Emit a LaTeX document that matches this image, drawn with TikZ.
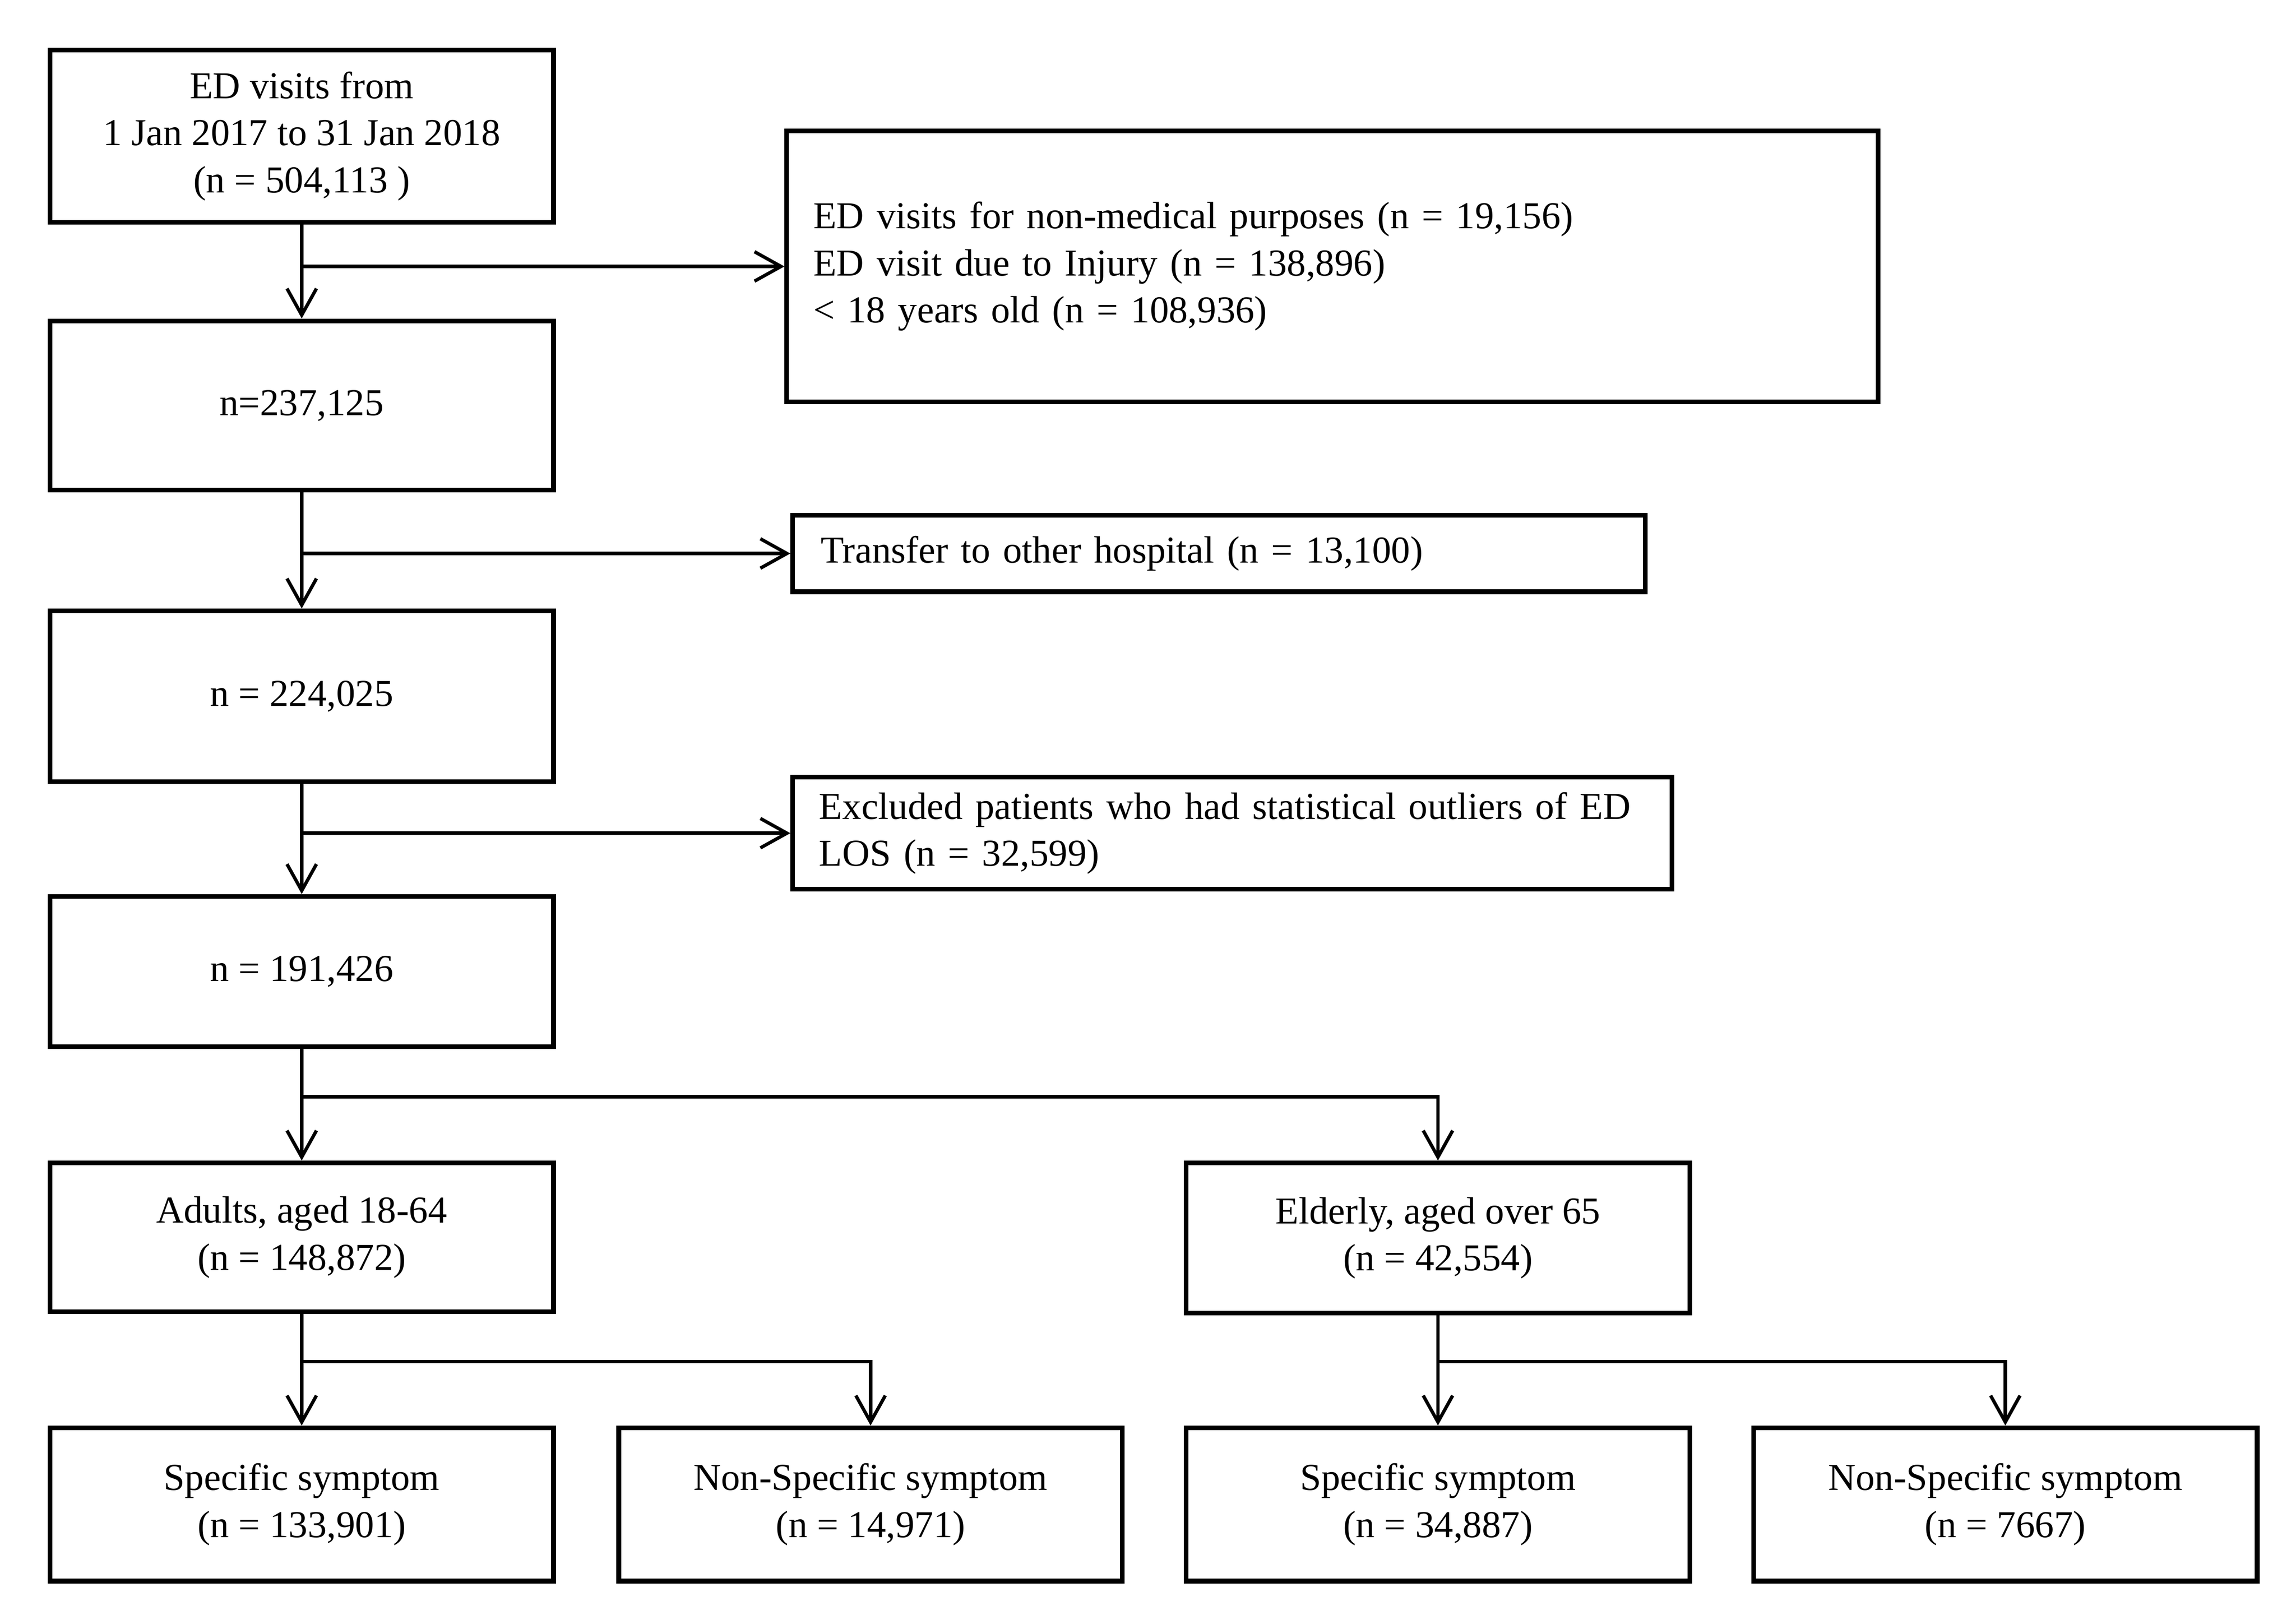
\documentclass[tikz,border=0pt]{standalone}
\usepackage{fontspec}
\setmainfont{Liberation Serif}
\usetikzlibrary{arrows.meta}

\begin{document}
\begin{tikzpicture}[x = 0.01cm, y = -0.01cm,
		font = \fontsize{7.35}{9.1}\selectfont,
		box/.style = {draw, line width = 0.9pt, align = center, inner sep = 0pt, minimum width = 3.42cm},
		excl/.style = {draw, line width = 0.9pt, align = left, anchor = west, inner xsep = 0.18cm, inner ysep = 0pt},
		flow/.style = {line width = 0.65pt, -{Straight Barb[length = 1.8mm, width = 2mm]}}]
		\useasboundingbox (0, 0) rectangle (1560, 1103);
		% main column
		\node[box, minimum height = 1.17cm] (start) at (205, 92.5) {ED visits from\\1 Jan 2017 to 31 Jan 2018\\(n = 504,113 )};
		\node[box, minimum height = 1.15cm] (n1) at (205, 275.5) {n=237,125};
		\node[box, minimum height = 1.16cm] (n2) at (205, 473) {n = 224,025};
		\node[box, minimum height = 1.02cm] (n3) at (205, 660) {n = 191,426};
		% exclusions
		\node[excl, minimum width = 7.41cm, minimum height = 1.84cm, text width = 7.05cm] (ex1) at (533, 181)
			{ED visits for non-medical purposes (n = 19,156)\\ED visit due to Injury (n = 138,896)\\< 18 years old (n = 108,936)};
		\node[excl, minimum width = 5.79cm, minimum height = 0.52cm, text width = 5.41cm] (ex2) at (537, 376)
			{Transfer to other hospital (n = 13,100)};
		\node[excl, minimum width = 5.97cm, minimum height = 0.76cm, text width = 5.61cm] (ex3) at (537, 566)
			{Excluded patients who had statistical outliers of ED\\LOS (n = 32,599)};
		% age groups
		\node[box, minimum height = 1.01cm] (adult) at (205, 840.5) {Adults, aged 18-64\\(n = 148,872)};
		\node[box, minimum height = 1.02cm] (elder) at (977, 841) {Elderly, aged over 65\\(n = 42,554)};
		% symptom groups
		\node[box, minimum height = 1.04cm] (aspec) at (205, 1022) {Specific symptom\\(n = 133,901)};
		\node[box, minimum height = 1.04cm] (anon) at (591.5, 1022) {Non-Specific symptom\\(n = 14,971)};
		\node[box, minimum height = 1.04cm] (espec) at (977, 1022) {Specific symptom\\(n = 34,887)};
		\node[box, minimum height = 1.04cm] (enon) at (1362.5, 1022) {Non-Specific symptom\\(n = 7667)};
		% arrows
		\draw[flow] (start) -- (n1);
		\draw[flow] (start.south |- ex1.west) -- (ex1.west);
		\draw[flow] (n1) -- (n2);
		\draw[flow] (n1.south |- ex2.west) -- (ex2.west);
		\draw[flow] (n2) -- (n3);
		\draw[flow] (n2.south |- ex3.west) -- (ex3.west);
		\coordinate (split) at (205, 745);
		\draw[flow] (n3) -- (adult);
		\draw[flow] (split) -| (elder.north);
		\coordinate (asplit) at (205, 925);
		\coordinate (esplit) at (977, 925);
		\draw[flow] (adult) -- (aspec);
		\draw[flow] (asplit) -| (anon.north);
		\draw[flow] (elder) -- (espec);
		\draw[flow] (esplit) -| (enon.north);
	\end{tikzpicture}
\end{document}
